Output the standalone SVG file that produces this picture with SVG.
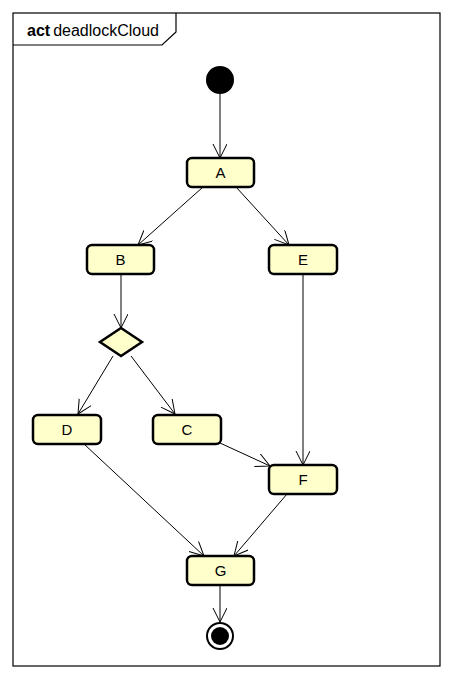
<svg xmlns="http://www.w3.org/2000/svg" width="453" height="680" viewBox="0 0 453 680">
<style>
.node rect{fill:#FFFFCC;stroke:#000;stroke-width:2.5}
.lbl{font-family:"Liberation Sans",Arial,sans-serif;font-size:15px;fill:#000;text-anchor:middle}
.edge{stroke:#000;stroke-width:1;fill:none;marker-end:url(#arr)}
</style>
<defs>
<marker id="arr" markerUnits="userSpaceOnUse" markerWidth="16" markerHeight="16" refX="14" refY="7" orient="auto">
<path d="M0,0 L14,7 L0,14" fill="none" stroke="#000" stroke-width="1"/>
</marker>
</defs>
<rect width="453" height="680" fill="#fff"/>
<g id="frame">
<rect x="13" y="13" width="427" height="653" fill="none" stroke="#000" stroke-width="1.2"/>
<path d="M13,45 L162,45 L176,32 L176,13" fill="none" stroke="#000" stroke-width="1.2"/>
<text x="27" y="36" font-family="Liberation Sans,Arial,sans-serif" font-size="16" fill="#000"><tspan font-weight="bold">act</tspan><tspan dx="3">deadlockCloud</tspan></text>
</g>
<g id="edges">
<line class="edge" x1="220" y1="94" x2="220" y2="158"/>
<line class="edge" x1="203" y1="187" x2="138" y2="245"/>
<line class="edge" x1="236" y1="187" x2="289" y2="245"/>
<line class="edge" x1="121" y1="274" x2="121" y2="328"/>
<line class="edge" x1="113" y1="356" x2="78" y2="414"/>
<line class="edge" x1="131" y1="356" x2="175" y2="414"/>
<line class="edge" x1="220" y1="443" x2="270" y2="466"/>
<line class="edge" x1="303" y1="274" x2="303" y2="465"/>
<line class="edge" x1="84" y1="444" x2="204" y2="556"/>
<line class="edge" x1="287" y1="494" x2="234" y2="556"/>
<line class="edge" x1="220" y1="585" x2="220" y2="622"/>
</g>
<g id="initial"><circle cx="220" cy="80" r="14" fill="#000"/></g>
<g id="A" class="node"><rect x="187" y="158" width="67" height="29" rx="5"/><text class="lbl" x="220.5" y="178">A</text></g>
<g id="B" class="node"><rect x="87" y="245" width="67" height="29" rx="5"/><text class="lbl" x="120.5" y="265">B</text></g>
<g id="E" class="node"><rect x="269" y="245" width="68" height="29" rx="5"/><text class="lbl" x="303" y="265">E</text></g>
<g id="decision"><path d="M121,328 L142,342 L121,356 L100,342 Z" fill="#FFFFCC" stroke="#000" stroke-width="2.5"/></g>
<g id="D" class="node"><rect x="33" y="415" width="68" height="29" rx="5"/><text class="lbl" x="67" y="435">D</text></g>
<g id="C" class="node"><rect x="153" y="415" width="68" height="29" rx="5"/><text class="lbl" x="187" y="435">C</text></g>
<g id="F" class="node"><rect x="269" y="465" width="68" height="29" rx="5"/><text class="lbl" x="303" y="485">F</text></g>
<g id="G" class="node"><rect x="187" y="556" width="67" height="29" rx="5"/><text class="lbl" x="220.5" y="576">G</text></g>
<g id="final"><circle cx="220" cy="636" r="13" fill="#fff" stroke="#000" stroke-width="2"/><circle cx="220" cy="636" r="9" fill="#000"/></g>
</svg>
